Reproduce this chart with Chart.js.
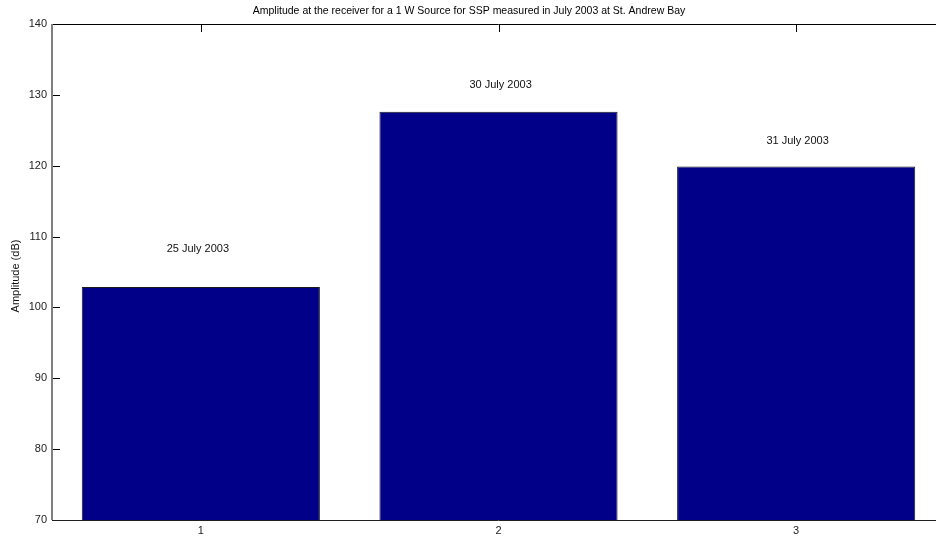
<!DOCTYPE html>
<html>
<head>
<meta charset="utf-8">
<script src="https://cdn.jsdelivr.net/npm/chart.js@4/dist/chart.umd.min.js"></script>
<style>
  html, body { margin: 0; padding: 0; background: #ffffff; overflow: hidden; }
  #wrap { position: relative; width: 950px; height: 537px; }
</style>
</head>
<body>
<div id="wrap"><canvas id="c" width="950" height="537"></canvas></div>
<script>
const categories = ['1', '2', '3'];
const amplitudes = [102.9, 127.6, 119.9];
const annotationTexts = ['25 July 2003', '30 July 2003', '31 July 2003'];
const annotationX = [0.99, 2.007, 3.005];
const annotationY = [108.3, 131.4, 123.5];
const yTicks = [70, 80, 90, 100, 110, 120, 130, 140];
const titleText = 'Amplitude at the receiver for a 1 W Source for SSP measured in July 2003 at St. Andrew Bay';
const yLabel = 'Amplitude (dB)';

const FONT = '"Liberation Sans", Arial, sans-serif';

const decor = {
  id: 'decor',
  beforeDatasetsDraw(chart) {
    const ctx = chart.ctx;
    const a = chart.chartArea;
    const xs = chart.scales.x, ys = chart.scales.y;
    ctx.save();
    ctx.lineWidth = 1;
    ctx.strokeStyle = '#000000';
    ctx.beginPath();
    ctx.moveTo(a.left, a.top + 0.5);
    ctx.lineTo(a.right, a.top + 0.5);
    ctx.stroke();
    categories.forEach((c, i) => {
      const px = Math.round(xs.getPixelForValue(i)) + 0.5;
      ctx.beginPath();
      ctx.moveTo(px, a.top);
      ctx.lineTo(px, a.top + 8);
      ctx.moveTo(px, a.bottom);
      ctx.lineTo(px, a.bottom - 8);
      ctx.stroke();
    });
    yTicks.forEach(v => {
      const py = Math.round(ys.getPixelForValue(v)) + 0.5;
      ctx.beginPath();
      ctx.moveTo(a.left, py);
      ctx.lineTo(a.left + 8, py);
      ctx.stroke();
    });
    ctx.restore();
  },
  afterDraw(chart) {
    const ctx = chart.ctx;
    const a = chart.chartArea;
    const xs = chart.scales.x, ys = chart.scales.y;
    ctx.save();
    ctx.strokeStyle = '#808080';
    ctx.lineWidth = 2;
    ctx.beginPath();
    ctx.moveTo(a.left, a.top);
    ctx.lineTo(a.left, a.bottom);
    ctx.stroke();
    ctx.strokeStyle = '#202020';
    ctx.lineWidth = 1;
    ctx.beginPath();
    ctx.moveTo(a.left, a.bottom + 0.5);
    ctx.lineTo(a.right, a.bottom + 0.5);
    ctx.stroke();
    ctx.fillStyle = '#000000';
    ctx.font = '10.5px ' + FONT;
    ctx.textAlign = 'center';
    ctx.textBaseline = 'middle';
    ctx.fillText(titleText, 469, 11);
    ctx.font = '11px ' + FONT;
    ctx.fillStyle = '#111111';
    annotationTexts.forEach((t, i) => {
      ctx.fillText(t, xs.getPixelForValue(annotationX[i] - 1), ys.getPixelForValue(annotationY[i]));
    });
    ctx.translate(16, 276);
    ctx.rotate(-Math.PI / 2);
    ctx.fillText(yLabel, 0, 0);
    ctx.restore();
  }
};

new Chart(document.getElementById('c'), {
  type: 'bar',
  data: {
    labels: categories,
    datasets: [{
      data: amplitudes,
      backgroundColor: '#000088',
      borderColor: '#1a1a1a',
      borderWidth: 1,
      borderSkipped: 'bottom',
      barPercentage: 0.8,
      categoryPercentage: 1.0
    }]
  },
  options: {
    responsive: false,
    animation: false,
    events: [],
    layout: { padding: { left: 0, top: 24, right: 5, bottom: 0 } },
    plugins: { legend: { display: false }, tooltip: { enabled: false }, title: { display: false } },
    scales: {
      x: {
        type: 'category',
        offset: true,
        grid: { display: false, drawTicks: false },
        border: { display: false },
        ticks: { color: '#222222', font: { family: FONT, size: 11 }, padding: 4, maxRotation: 0 },
        afterFit(s) { s.height = 17; }
      },
      y: {
        min: 70,
        max: 140,
        afterBuildTicks(s) { s.ticks = yTicks.map(v => ({ value: v })); },
        grid: { display: false, drawTicks: false },
        border: { display: false },
        ticks: { color: '#222222', font: { family: FONT, size: 11 }, padding: 5 },
        afterFit(s) { s.width = 52; }
      }
    }
  },
  plugins: [decor]
});
</script>
</body>
</html>
